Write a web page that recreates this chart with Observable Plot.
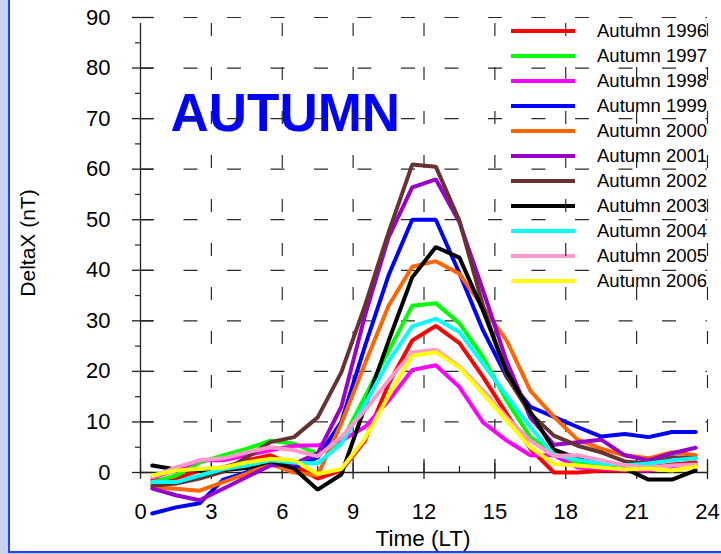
<!DOCTYPE html>
<html>
<head>
<meta charset="utf-8">
<script src="https://cdn.jsdelivr.net/npm/d3@7"></script>
<script src="https://cdn.jsdelivr.net/npm/@observablehq/plot@0.6"></script>
<style>
  html, body { margin: 0; padding: 0; background: #c9d3ef; }
  #wrap { position: relative; width: 721px; height: 554px; overflow: hidden; }
  #panel { position: absolute; left: 8px; top: 0; width: 713px; height: 553px; box-sizing: border-box;
           background: #fff; border-left: 2px solid #2040ff; border-bottom: 2px solid #2040ff; }
  #chart { position: absolute; left: 0; top: 0; }
</style>
</head>
<body>
<div id="wrap"><div id="panel"></div><div id="chart"></div></div>
<script>
// ---- data ----
const hours = [0.5, 1.5, 2.5, 3.5, 4.5, 5.5, 6.5, 7.5, 8.5, 9.5, 10.5, 11.5,
               12.5, 13.5, 14.5, 15.5, 16.5, 17.5, 18.5, 19.5, 20.5, 21.5, 22.5, 23.5];
const seriesNames = ["Autumn 1996", "Autumn 1997", "Autumn 1998", "Autumn 1999", "Autumn 2000", "Autumn 2001",
                     "Autumn 2002", "Autumn 2003", "Autumn 2004", "Autumn 2005", "Autumn 2006"];
const seriesColors = ["#ff0000", "#00ff00", "#ff00ff", "#0000ff", "#ff6600", "#9900cc",
                      "#663333", "#000000", "#00ffff", "#ff99cc", "#ffff00"];
const a1996 = [-1.6, -1.2, 0.4, 1.0, 2.4, 3.4, 1.4, -1.2, 0.4, 6.3, 17.5, 26.1, 29.0, 25.6, 18.9, 11.6, 4.7, 0.0, 0.0, 0.4, 0.4, 1.0, 1.6, 2.0];
const a1997 = [-1.9, -0.6, 2.0, 3.4, 4.7, 6.3, 5.7, 3.7, 6.0, 15.0, 24.0, 33.0, 33.5, 29.5, 22.8, 14.2, 7.0, 3.7, 2.0, 1.5, 1.0, 1.0, 1.2, 1.5];
const a1998 = [-1.0, 0.5, 2.4, 2.4, 3.4, 4.4, 5.3, 5.4, 6.3, 9.0, 14.2, 20.3, 21.2, 16.9, 9.9, 6.3, 3.4, 3.4, 1.0, 0.8, 0.5, 0.4, 1.2, 1.4];
const a1999 = [-8.1, -6.9, -6.1, -1.4, 0.0, 1.7, 1.0, 3.0, 10.0, 25.0, 39.0, 50.0, 50.0, 39.4, 28.1, 18.9, 13.0, 11.0, 9.0, 7.1, 7.6, 7.0, 8.0, 8.0];
const a2000 = [-2.9, -3.2, -3.6, -1.9, -0.2, 1.7, 0.0, -0.6, 9.7, 21.5, 33.0, 40.7, 41.8, 39.3, 32.7, 26.1, 16.2, 11.0, 6.5, 4.7, 3.4, 2.8, 4.0, 3.4];
const a2001 = [-3.2, -4.5, -5.5, -3.2, -0.9, 1.4, 1.7, 3.8, 13.0, 31.0, 46.5, 56.4, 58.0, 49.5, 36.0, 22.0, 10.9, 5.5, 6.0, 6.5, 3.4, 2.4, 3.8, 4.9];
const a2002 = [-2.6, -2.2, -1.2, 0.2, 3.0, 6.0, 7.0, 10.9, 19.8, 33.0, 47.5, 60.9, 60.5, 49.8, 33.0, 19.0, 11.7, 7.3, 5.3, 4.0, 2.2, 1.8, 3.0, 2.8];
const a2003 = [1.4, 0.6, 0.4, 0.5, 0.9, 2.2, 0.8, -3.4, -0.4, 13.0, 26.0, 38.6, 44.6, 42.5, 32.0, 20.0, 12.0, 4.5, 2.8, 2.0, 0.8, -1.4, -1.4, 0.4];
const a2004 = [-1.9, -1.9, -0.6, 0.7, 1.4, 2.4, 2.0, 1.8, 5.7, 13.5, 22.0, 28.9, 30.4, 27.8, 21.5, 15.2, 9.0, 3.5, 2.5, 1.8, 1.4, 1.8, 2.4, 2.8];
const a2005 = [-0.9, 1.0, 2.4, 2.8, 4.0, 5.0, 4.4, 3.2, 7.0, 12.3, 18.2, 23.8, 24.3, 21.0, 16.2, 10.9, 6.3, 3.3, 3.4, 2.4, 1.4, 1.0, 1.4, 1.6];
const a2006 = [-0.6, 0.4, 0.7, 1.0, 2.0, 2.7, 2.4, -0.3, 0.7, 6.7, 15.2, 23.1, 23.8, 20.8, 15.6, 10.3, 5.0, 1.7, 1.4, 1.0, 0.6, 0.8, 0.4, 1.2];
const seriesValues = [a1996, a1997, a1998, a1999, a2000, a2001, a2002, a2003, a2004, a2005, a2006];
const xMajor = [0, 3, 6, 9, 12, 15, 18, 21, 24];
const xMinor = [1.5, 4.5, 7.5, 10.5, 13.5, 16.5, 19.5, 22.5];
const yMajor = [0, 10, 20, 30, 40, 50, 60, 70, 80, 90];
const yMinor = [5, 15, 25, 35, 45, 55, 65, 75, 85];
const title = "AUTUMN";
const xLabel = "Time (LT)";
const yLabel = "DeltaX (nT)";

// ---- table ----
const table = [];
seriesNames.forEach((name, i) => {
  seriesValues[i].forEach((v, j) => table.push({series: name, hour: hours[j], value: v}));
});

const W = 721, H = 554, ML = 140, MR = 14, MT = 17, MB = 82;
const plotW = W - ML - MR, plotH = H - MT - MB;
const axisColor = "#222";
const gridColor = "#2a2a2a";

const chart = Plot.plot({
  width: W, height: H,
  marginLeft: ML, marginRight: MR, marginTop: MT, marginBottom: MB,
  x: {domain: [0, 24]},
  y: {domain: [0, 90]},
  color: {domain: seriesNames, range: seriesColors},
  style: {background: "transparent", fontFamily: "'Liberation Sans', Arial, sans-serif", fontSize: "22px", color: "black"},
  marks: [
    Plot.text([title], {frameAnchor: "top-left", dx: 30, dy: 113, lineAnchor: "bottom", textAnchor: "start",
                        fontSize: 53, fontWeight: "bold", fill: "#0000ff"}),
    // dashed grid
    Plot.ruleY(yMajor.filter(d => d > 0), {y: d => d, x1: 0, x2: 24, stroke: gridColor, strokeWidth: 1.2,
                                            strokeDasharray: "14,29.5"}),
    Plot.ruleX(xMajor.filter(d => d > 0), {x: d => d, y1: 90, y2: 0, stroke: gridColor, strokeWidth: 1.2,
                                            strokeDasharray: "13,31", strokeDashoffset: 38}),
    // axis lines
    Plot.ruleX([0], {y1: 0, y2: 90, insetBottom: -6, stroke: axisColor, strokeWidth: 1.3}),
    Plot.ruleY([0], {x1: 0, x2: 24, stroke: axisColor, strokeWidth: 1.3}),
    // ticks
    Plot.tickX(xMajor, {x: d => d, insetTop: plotH - 13, insetBottom: -7, stroke: axisColor, strokeWidth: 1.3}),
    Plot.tickX(xMinor, {x: d => d, insetTop: plotH - 6, insetBottom: 0, stroke: axisColor, strokeWidth: 1.2}),
    Plot.tickY(yMajor, {y: d => d, insetLeft: -8, insetRight: plotW - 13, stroke: axisColor, strokeWidth: 1.3}),
    Plot.tickY(yMinor, {y: d => d, insetLeft: -5, insetRight: plotW, stroke: axisColor, strokeWidth: 1.2}),
    // tick labels
    Plot.axisY({ticks: yMajor, tickSize: 0, tickPadding: 30, label: null, fontSize: 22, tickFormat: d => String(d)}),
    Plot.axisX({ticks: xMajor, tickSize: 0, tickPadding: 31, label: null, fontSize: 22, tickFormat: d => String(d)}),
    // axis titles
    Plot.text([xLabel], {frameAnchor: "bottom", dx: -1, dy: 66, lineAnchor: "middle", textAnchor: "middle",
                         fontSize: 22.5, fill: "black"}),
    Plot.text([yLabel], {frameAnchor: "left", dx: -112, dy: -2, rotate: -90, lineAnchor: "middle", textAnchor: "middle",
                         fontSize: 21, fill: "black"}),
    // data
    Plot.line(table, {x: "hour", y: "value", z: "series", stroke: "series", strokeWidth: 4, strokeLinejoin: "miter"})
  ]
});

document.getElementById("chart").appendChild(chart);

// legend (inside the plot area, under the grid)
const svg = d3.select(chart);
const lg = svg.insert("g", ":first-child").attr("class", "legend");
seriesNames.forEach((name, i) => {
  const y = 31 + i * 25;
  lg.append("line").attr("x1", 511).attr("x2", 575).attr("y1", y).attr("y2", y)
    .attr("stroke", seriesColors[i]).attr("stroke-width", 4);
  lg.append("text").attr("x", 597).attr("y", y).attr("dy", "0.35em")
    .attr("text-anchor", "start")
    .attr("font-size", 18.5).attr("font-family", "'Liberation Sans', Arial, sans-serif")
    .attr("fill", "black").text(name);
});
</script>
</body>
</html>
